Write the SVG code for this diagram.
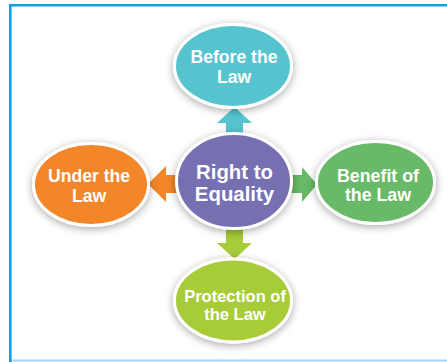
<svg xmlns="http://www.w3.org/2000/svg" width="447" height="362" viewBox="0 0 447 362">
<defs>
<filter id="sh" x="-30%" y="-30%" width="160%" height="160%">
<feGaussianBlur in="SourceAlpha" stdDeviation="4"/>
<feOffset dx="0" dy="2" result="b"/>
<feComponentTransfer><feFuncA type="linear" slope="0.35"/></feComponentTransfer>
<feMerge><feMergeNode/><feMergeNode in="SourceGraphic"/></feMerge>
</filter>
</defs>
<style>
.n{stroke:#ffffff;stroke-width:3;filter:url(#sh)}
.t{font-family:"Liberation Sans",Arial,sans-serif;font-weight:bold;fill:#ffffff;text-anchor:middle}
</style>
<rect x="0" y="0" width="447" height="362" fill="#ffffff"/>
<line x1="9" y1="360.5" x2="447" y2="360.5" stroke="#9fd6f2" stroke-width="2"/>
<path d="M10.3 362 V5.2 H447" fill="none" stroke="#12a0e3" stroke-width="2.6"/>
<g id="connectors">
<polygon points="226,137 226,123 217,123 234.5,107 252,123 243,123 243,137" fill="#56c4ce"/>
<polygon points="184,175 166,175 166,166 148,184 166,202 166,193 184,193" fill="#f4862a"/>
<polygon points="286,175 302,175 302,167 317,184.5 302,202 302,193 286,193" fill="#67b967"/>
<polygon points="226,226 226,243 217,243 234.5,259 252,243 243,243 243,226" fill="#a7cc39"/>
</g>
<g id="node-top">
<ellipse class="n" cx="233" cy="66" rx="58.5" ry="41.5" fill="#56c4ce"/>
<text class="t" x="234" y="63" font-size="17.6">Before the</text>
<text class="t" x="234" y="83" font-size="17.6">Law</text>
</g>
<g id="node-center">
<ellipse class="n" cx="234" cy="181" rx="57.5" ry="47.5" fill="#766fb3"/>
<text class="t" x="234.5" y="179" font-size="20.4">Right to</text>
<text class="t" x="234.5" y="201" font-size="20.4">Equality</text>
</g>
<g id="node-left">
<ellipse class="n" cx="91" cy="184.5" rx="57.5" ry="41" fill="#f4862a"/>
<text class="t" x="89" y="182" font-size="17.6">Under the</text>
<text class="t" x="89" y="202" font-size="17.6">Law</text>
</g>
<g id="node-right">
<ellipse class="n" cx="375.5" cy="182.5" rx="59" ry="41" fill="#67b967"/>
<text class="t" x="378" y="182" font-size="17.8">Benefit of</text>
<text class="t" x="378" y="201" font-size="17.8">the Law</text>
</g>
<g id="node-bottom">
<ellipse class="n" cx="233" cy="300.5" rx="58.5" ry="41.5" fill="#a7cc39"/>
<text class="t" x="235" y="302" font-size="16.5">Protection of</text>
<text class="t" x="235" y="320" font-size="16.5">the Law</text>
</g>
</svg>
